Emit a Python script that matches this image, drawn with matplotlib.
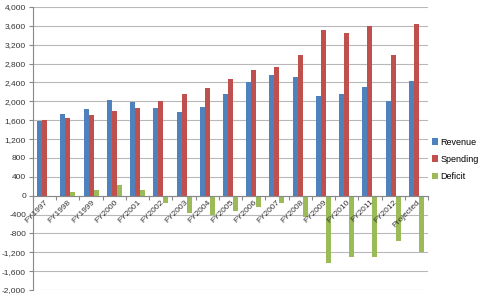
import matplotlib
matplotlib.use("Agg")
import matplotlib.pyplot as plt
import numpy as np
from matplotlib.ticker import FuncFormatter, MultipleLocator
import matplotlib.transforms as mtransforms

plt.rcParams['font.family'] = ['Liberation Sans', 'DejaVu Sans']

categories = ["FY1997", "FY1998", "FY1999", "FY2000", "FY2001", "FY2002", "FY2003",
              "FY2004", "FY2005", "FY2006", "FY2007", "FY2008", "FY2009", "FY2010",
              "FY2011", "FY2012", "Projected"]
revenue = [1579, 1722, 1827, 2025, 1991, 1853, 1782, 1880, 2153, 2407, 2568, 2524,
           2104, 2152, 2294, 2004, 2434]
spending = [1601, 1652, 1702, 1789, 1863, 2011, 2160, 2293, 2472, 2655, 2729, 2983,
            3522, 3443, 3592, 2984, 3640]
deficit = [-22, 70, 126, 236, 128, -158, -378, -413, -318, -248, -161, -459,
           -1418, -1291, -1291, -959, -1198]

fig = plt.figure(figsize=(4.84, 3.0), dpi=100)
ax = fig.add_axes([33/484, 1 - 290/300, (428 - 33)/484, (290 - 7)/300])

x = np.arange(len(categories))
w = 0.215
ax.bar(x - w, revenue, w, color="#4F81BD", label="Revenue", zorder=3)
ax.bar(x, spending, w, color="#C0504D", label="Spending", zorder=3)
ax.bar(x + w, deficit, w, color="#9BBB59", label="Deficit", zorder=3)

ax.set_xlim(-0.5, len(categories) - 0.5)
ax.set_ylim(-2000, 4000)
ax.yaxis.set_major_locator(MultipleLocator(400))
ax.yaxis.set_major_formatter(FuncFormatter(lambda v, p: f"{int(v):,}"))
ax.grid(axis='y', color="#B8B8B8", linewidth=0.8)
ax.yaxis.set_zorder(0.5)
ax.xaxis.set_zorder(5)

for s in ['top', 'right']:
    ax.spines[s].set_visible(False)
ax.spines['left'].set_color("#888888")
ax.spines['left'].set_linewidth(0.8)
ax.spines['bottom'].set_position(('data', 0))
ax.spines['bottom'].set_color("#888888")
ax.spines['bottom'].set_linewidth(0.8)
ax.spines['bottom'].set_zorder(4)

ax.set_xticks(x)
ax.set_xticklabels(categories, rotation=45, ha='right', va='top',
                   rotation_mode='anchor', fontsize=6, color="#333333")
offset = mtransforms.ScaledTranslation(-3/100, 0, fig.dpi_scale_trans)
for lab in ax.get_xticklabels():
    lab.set_transform(lab.get_transform() + offset)
ax.set_xticks(np.arange(-0.5, len(categories)), minor=True)
ax.tick_params(axis='x', which='major', length=0, pad=2)
ax.tick_params(axis='x', which='minor', length=3, color="#888888", width=0.8)
ax.tick_params(axis='y', length=3, color="#888888", width=0.8, labelsize=6,
               labelcolor="#333333", pad=2)

ax.legend(loc='upper left', bbox_to_anchor=(428/484, 1 - 134/300),
          bbox_transform=fig.transFigure, frameon=False, fontsize=6.5,
          handlelength=0.7, handleheight=0.7, handletextpad=0.3,
          labelspacing=0.9, borderaxespad=0)

fig.savefig("out.png", dpi=100)
